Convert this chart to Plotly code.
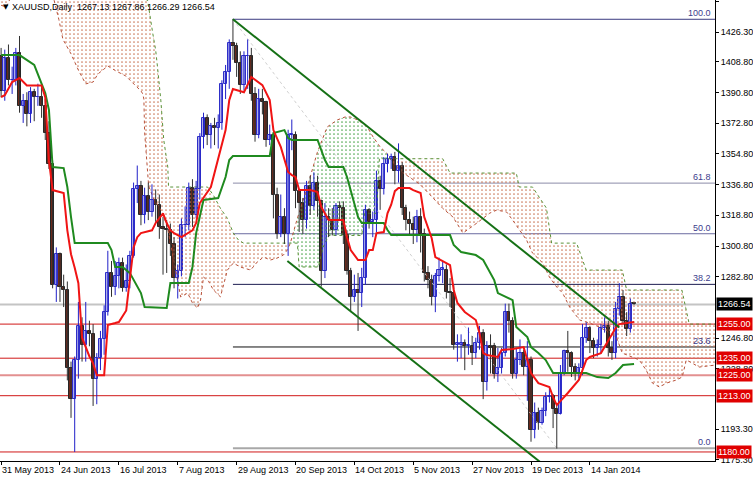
import plotly.graph_objects as go

# ---------------- data ----------------
tick_bars = [0, 16, 32, 48, 64, 80, 96, 112, 128, 144, 160]
tick_labels = ["31 May 2013", "24 Jun 2013", "16 Jul 2013", "7 Aug 2013", "29 Aug 2013",
               "20 Sep 2013", "14 Oct 2013", "5 Nov 2013", "27 Nov 2013", "19 Dec 2013",
               "14 Jan 2014"]

open_ = [1412, 1392, 1411, 1398, 1398, 1414, 1383, 1386, 1378, 1391,
         1388, 1388, 1383, 1367, 1349, 1278, 1296, 1277, 1275, 1229,
         1211, 1234, 1254, 1243, 1251, 1249, 1223, 1235, 1246, 1262,
         1285, 1277, 1283, 1291, 1276, 1280, 1295, 1334, 1336, 1319,
         1330, 1321, 1328, 1325, 1312, 1311, 1310, 1302, 1282, 1286,
         1313, 1313, 1335, 1319, 1334, 1365, 1376, 1366, 1371, 1370,
         1373, 1396, 1403, 1420, 1418, 1408, 1395, 1412, 1412, 1390,
         1366, 1387, 1385, 1363, 1366, 1331, 1308, 1318, 1308, 1366,
         1366, 1333, 1326, 1316, 1336, 1324, 1338, 1327, 1286, 1318,
         1316, 1310, 1324, 1323, 1307, 1286, 1271, 1275, 1273, 1282,
         1322, 1315, 1316, 1339, 1334, 1349, 1352, 1353, 1345, 1348,
         1323, 1316, 1314, 1310, 1318, 1308, 1285, 1281, 1271, 1283,
         1287, 1287, 1274, 1273, 1243, 1243, 1244, 1242, 1242, 1238,
         1244, 1250, 1221, 1242, 1242, 1226, 1229, 1238, 1262, 1257,
         1226, 1234, 1238, 1230, 1234, 1193, 1203, 1197, 1204, 1212,
         1213, 1205, 1202, 1226, 1239, 1238, 1230, 1226, 1229, 1247,
         1253, 1245, 1241, 1243, 1253, 1254, 1241, 1238, 1264, 1271,
         1257, 1252, 1267.13]
high = [1417, 1416, 1419, 1406, 1417, 1424, 1390, 1391, 1394, 1393,
        1396, 1395, 1387, 1374, 1351, 1300, 1297, 1284, 1280, 1233,
        1236, 1268, 1259, 1268, 1257, 1255, 1238, 1251, 1266, 1298,
        1292, 1292, 1294, 1294, 1290, 1298, 1338, 1348, 1339, 1335,
        1338, 1337, 1334, 1331, 1318, 1316, 1314, 1306, 1290, 1317,
        1324, 1338, 1340, 1339, 1367, 1379, 1378, 1373, 1376, 1378,
        1398, 1407, 1422, 1434, 1420, 1415, 1415, 1422, 1417, 1394,
        1393, 1393, 1386, 1372, 1367, 1335, 1331, 1323, 1369, 1375,
        1368, 1334, 1329, 1339, 1342, 1344, 1342, 1328, 1326, 1323,
        1323, 1326, 1327, 1327, 1310, 1288, 1284, 1285, 1288, 1325,
        1323, 1321, 1345, 1342, 1353, 1355, 1355, 1356, 1361, 1350,
        1325, 1321, 1318, 1322, 1323, 1311, 1289, 1284, 1285, 1294,
        1292, 1290, 1282, 1278, 1249, 1249, 1246, 1253, 1248, 1247,
        1254, 1252, 1245, 1249, 1244, 1241, 1241, 1267, 1267, 1259,
        1241, 1246, 1240, 1245, 1236, 1209, 1206, 1206, 1215, 1218,
        1214, 1208, 1231, 1240, 1251, 1239, 1232, 1232, 1255, 1256,
        1254, 1247, 1246, 1255, 1259, 1257, 1245, 1268, 1279, 1275,
        1262, 1270, 1267.86]
low = [1388, 1386, 1395, 1390, 1395, 1379, 1373, 1371, 1373, 1374,
       1383, 1376, 1363, 1346, 1276, 1268, 1268, 1265, 1222, 1200,
       1180, 1223, 1233, 1233, 1242, 1207, 1208, 1228, 1237, 1260,
       1271, 1272, 1276, 1274, 1274, 1276, 1294, 1326, 1313, 1314,
       1316, 1318, 1315, 1305, 1284, 1285, 1295, 1276, 1270, 1283,
       1306, 1310, 1312, 1317, 1328, 1358, 1360, 1358, 1360, 1358,
       1369, 1387, 1393, 1410, 1400, 1390, 1392, 1393, 1386, 1362,
       1364, 1378, 1359, 1360, 1317, 1305, 1306, 1302, 1295, 1357,
       1323, 1309, 1308, 1311, 1319, 1322, 1318, 1277, 1282, 1306,
       1307, 1307, 1316, 1302, 1284, 1262, 1268, 1251, 1265, 1278,
       1311, 1306, 1309, 1322, 1331, 1344, 1346, 1337, 1338, 1319,
       1310, 1307, 1302, 1303, 1297, 1280, 1276, 1266, 1262, 1280,
       1279, 1270, 1265, 1240, 1233, 1235, 1228, 1237, 1231, 1235,
       1240, 1211, 1216, 1226, 1223, 1221, 1226, 1236, 1250, 1223,
       1223, 1231, 1225, 1210, 1186, 1188, 1193, 1196, 1201, 1209,
       1194, 1182, 1202, 1225, 1227, 1224, 1222, 1223, 1225, 1244,
       1238, 1235, 1236, 1238, 1250, 1236, 1234, 1235, 1260, 1255,
       1248, 1250, 1266.29]
close = [1392, 1411, 1398, 1398, 1414, 1383, 1386, 1378, 1391, 1388,
         1388, 1383, 1367, 1349, 1278, 1296, 1277, 1275, 1229, 1211,
         1234, 1254, 1243, 1251, 1249, 1223, 1235, 1246, 1262, 1285,
         1277, 1283, 1291, 1276, 1280, 1295, 1334, 1336, 1319, 1330,
         1321, 1328, 1325, 1312, 1311, 1310, 1302, 1282, 1286, 1313,
         1313, 1335, 1319, 1334, 1365, 1376, 1366, 1371, 1370, 1373,
         1396, 1403, 1420, 1418, 1408, 1395, 1412, 1412, 1390, 1366,
         1387, 1385, 1363, 1366, 1331, 1308, 1318, 1308, 1366, 1366,
         1333, 1326, 1316, 1336, 1324, 1338, 1327, 1286, 1318, 1316,
         1310, 1324, 1323, 1307, 1286, 1271, 1275, 1273, 1282, 1322,
         1315, 1316, 1339, 1334, 1349, 1352, 1353, 1345, 1348, 1323,
         1316, 1314, 1310, 1318, 1308, 1285, 1281, 1271, 1283, 1287,
         1288, 1274, 1273, 1243, 1244, 1244, 1242, 1243, 1238, 1244,
         1250, 1221, 1242, 1241, 1226, 1229, 1238, 1262, 1257, 1226,
         1234, 1238, 1230, 1234, 1193, 1203, 1197, 1204, 1212, 1213,
         1205, 1202, 1226, 1239, 1238, 1230, 1226, 1229, 1247, 1253,
         1245, 1241, 1243, 1253, 1254, 1241, 1238, 1264, 1271, 1257,
         1252, 1267, 1266.54]

# Ichimoku lines (bar index, price)
tenkan_x = [0, 1, 3, 5, 7, 11, 12, 13, 14, 16, 17, 18, 19, 20, 21, 22, 24, 25, 26, 28,
            29, 31, 32, 34, 35, 36, 37, 38, 41, 42, 44, 45, 46, 47, 49, 51, 52, 53, 54, 57,
            59, 61, 62, 63, 66, 68, 71, 72, 73, 74, 76, 78, 79, 80, 81, 84, 86, 87, 89, 93,
            94, 95, 97, 99, 100, 101, 102, 104, 105, 106, 107, 108, 111, 112, 114, 115, 117, 118, 122, 123,
            124, 126, 129, 130, 131, 132, 135, 136, 139, 142, 143, 144, 146, 149, 150, 151, 154, 157, 159, 160,
            163, 165, 167, 168, 172]
tenkan_y = [1388.2, 1389.3, 1397.0, 1399.3, 1395.0, 1395.0, 1388.0, 1351.0, 1333.6, 1332.5,
            1331.9, 1310.0, 1296.0, 1288.0, 1279.0, 1247.0, 1236.0, 1232.0, 1225.0, 1225.0,
            1254.5, 1255.6, 1256.2, 1263.0, 1282.6, 1300.0, 1306.0, 1308.4, 1310.0, 1314.3,
            1320.0, 1314.3, 1310.0, 1308.4, 1306.0, 1309.0, 1310.0, 1314.3, 1326.0, 1335.4,
            1353.0, 1368.8, 1386.4, 1392.9, 1391.0, 1399.9, 1395.2, 1390.5, 1386.4, 1368.8,
            1358.9, 1344.2, 1342.4, 1341.3, 1333.6, 1333.6, 1332.5, 1323.7, 1316.0, 1316.0,
            1306.0, 1298.4, 1292.6, 1292.6, 1298.4, 1298.4, 1308.4, 1309.0, 1320.0, 1325.0,
            1333.0, 1334.8, 1334.8, 1333.6, 1331.9, 1317.8, 1305.5, 1294.3, 1289.6, 1275.0,
            1267.4, 1262.1, 1257.4, 1249.8, 1238.0, 1236.9, 1235.7, 1239.8, 1240.4, 1241.5,
            1233.9, 1226.3, 1220.4, 1218.1, 1212.2, 1207.5, 1214.6, 1222.2, 1233.9, 1235.7,
            1238.0, 1245.6, 1252.7, 1255.0, 1256.2]
kijun_x = [0, 5, 9, 11, 12, 13, 14, 17, 18, 19, 20, 29, 30, 31, 33, 35, 38, 39, 45, 46,
           51, 52, 53, 55, 59, 61, 62, 63, 73, 74, 77, 78, 79, 86, 88, 89, 93, 94, 97, 98,
           104, 105, 106, 122, 123, 125, 129, 131, 134, 135, 139, 140, 143, 144, 146, 148, 150, 159, 162, 165,
           167, 169, 172]
kijun_y = [1412.8, 1412.8, 1407.0, 1396.4, 1390.5, 1380.6, 1347.1, 1346.5, 1335.4, 1317.8,
           1302.5, 1302.5, 1298.4, 1288.5, 1288.5, 1284.9, 1273.2, 1265.0, 1264.4, 1279.1,
           1279.1, 1288.5, 1308.4, 1327.8, 1328.9, 1341.3, 1351.2, 1353.6, 1353.6, 1367.0,
           1368.8, 1364.1, 1363.0, 1363.0, 1351.2, 1347.1, 1347.1, 1341.3, 1317.8, 1314.3,
           1314.3, 1310.2, 1307.2, 1307.2, 1301.4, 1297.3, 1295.5, 1292.6, 1280.8, 1273.2,
           1269.1, 1253.3, 1247.4, 1241.5, 1238.0, 1233.9, 1226.3, 1226.3, 1223.9, 1223.4,
           1226.3, 1231.0, 1231.6]
span_a_x = [0, 1.4, 2.7, 5, 13, 14.4, 15.7, 16.8, 19, 21.1, 23, 25, 26.3, 29, 31.2, 33.9,
            36.6, 38, 38.5, 38.8, 39, 39.6, 40.1, 41.5, 42.8, 44.2, 45.3, 46.6, 48.2, 48.8,
            50.7, 52, 53.4, 54.2, 55, 56.4, 57.7, 59.6, 61.5, 63.1, 65, 65.9, 67.8, 69.6,
            71.3, 73.2, 75, 76.7, 77.8, 78.6, 80.5, 83.2, 85.9, 88.6, 91.3, 93.5, 94.9, 97,
            99.5, 101.1, 103, 104.9, 105.7, 108.4, 113.8, 116.5, 120, 122.8, 125.5, 129.3,
            132.8, 134.7, 137.4, 139, 141, 142.8, 144.4, 147.2, 149, 151, 152.6, 154.5, 157.2,
            159.9, 162.6, 165.3, 167.2, 168.8, 171.5, 173.4, 175.3, 177, 178.9, 180.8, 183.5,
            185.1, 186.2, 187.8, 189.7, 198]
span_a_y = [1442, 1441, 1447, 1460, 1460, 1445, 1433.6, 1422, 1413.5, 1403.5, 1395.9, 1397,
            1401.7, 1406.4, 1403.5, 1400.5, 1394.7, 1391.8, 1390, 1387, 1367.6, 1347.6, 1335.9,
            1328.3, 1324.2, 1318.3, 1310.7, 1296, 1278, 1270.9, 1273.2, 1267.4, 1264.4, 1269.1,
            1282.6, 1280, 1275, 1271, 1286.7, 1290.8, 1288.5, 1287.9, 1286.7, 1291.4, 1294.3,
            1292.6, 1293.7, 1295.5, 1298.5, 1302.5, 1317, 1335.4, 1355.5, 1370.6, 1374.7,
            1376.5, 1376.5, 1374.7, 1370.6, 1364.7, 1358.9, 1355, 1352, 1345, 1337, 1331,
            1322.9, 1317.8, 1308.4, 1314.3, 1320.1, 1321.9, 1320.7, 1316, 1310.2, 1304.3,
            1296.7, 1290.8, 1282.6, 1276.7, 1273.2, 1265, 1257.4, 1255.6, 1253.3, 1249.8,
            1247.4, 1238, 1235.7, 1234, 1228, 1220.4, 1218.1, 1220.4, 1222.2, 1224, 1234,
            1232, 1229.8, 1232]
span_b_x = [0, 39.8, 41.2, 42, 42.5, 43.4, 44.2, 45.3, 45.5, 56.1, 57.7, 59.6, 61.5, 63.1,
            64.5, 65.9, 80.5, 81, 86.2, 87.5, 89, 98, 98.8, 102, 102.8, 120, 122, 140, 140.8,
            144.4, 148.2, 149.6, 156.4, 159, 168.8, 170, 185, 187, 198]
span_b_y = [1480, 1445, 1425.7, 1415.7, 1405.8, 1386.4, 1363, 1347.1, 1335.4, 1335.4,
            1330.6, 1322.9, 1317, 1308.4, 1304.3, 1302.5, 1302.5, 1288.5, 1288.5, 1300, 1307,
            1307, 1320, 1320, 1352, 1352, 1343.6, 1343.6, 1335.4, 1335.4, 1323, 1302.5,
            1302.5, 1286.7, 1286.7, 1275, 1275, 1255, 1255]
kumo_cross_x = [78.6, 105.7]
kumo_cross_y = [1302.5, 1352.0]

level_prices = [1255.0, 1235.0, 1225.0, 1213.0, 1180.0]
bid_price = 1266.54

fib_high = 1433.8
fib_low = 1182.2
fib_start_bar = 63
fib_end_bar = 151
fib_ratios = [1.0, 0.618, 0.5, 0.382, 0.236, 0.0]
fib_texts = ["100.0", "61.8", "50.0", "38.2", "23.6", "0.0"]

channel_upper_x = [63, 168]
channel_upper_y = [1433.8, 1253.0]
channel_lower_x = [77.8, 148]
channel_lower_y = [1292.0, 1171.5]

y_tick_vals = [1444.3, 1426.3, 1408.8, 1390.8, 1372.8, 1354.8, 1336.8, 1318.8, 1300.8,
               1282.8, 1246.8, 1228.8, 1193.3, 1175.3]

# ---------------- figure ----------------
X_RANGE = [-0.3, 194.0]
Y_RANGE = [1174.7, 1445.1]
FONT = "Liberation Sans, Arial"

BROWN = "#CC7A5C"
GREEN_DOT = "#52A852"
fig = go.Figure()

# Kumo fills (split at crossings)
bounds = [X_RANGE[0] - 10] + kumo_cross_x + [300]
seg_colors = [BROWN, GREEN_DOT, BROWN]
for s in range(3):
    lo, hi = bounds[s], bounds[s + 1]
    ax = [x for x in span_a_x if lo <= x <= hi]
    ay = [y for x, y in zip(span_a_x, span_a_y) if lo <= x <= hi]
    bx = [x for x in span_b_x if lo <= x < hi]
    by = [y for x, y in zip(span_b_x, span_b_y) if lo <= x < hi]
    if s > 0:
        bx = [kumo_cross_x[s - 1]] + [x for x in bx if x > kumo_cross_x[s - 1]]
        by = [kumo_cross_y[s - 1]] + [y for x, y in zip(span_b_x, span_b_y)
                                      if kumo_cross_x[s - 1] < x < hi]
    if s < 2:
        bx = bx + [kumo_cross_x[s]]
        by = by + [kumo_cross_y[s]]
    px = ax + bx[::-1]
    py = ay + by[::-1]
    fig.add_trace(go.Scatter(
        x=px, y=py, mode="lines", line=dict(width=0), fill="toself",
        fillcolor="rgba(0,0,0,0)",
        fillpattern=dict(shape=".", fgcolor=seg_colors[s], bgcolor="rgba(0,0,0,0)",
                         size=4, solidity=0.14, fillmode="replace"),
        hoverinfo="skip", showlegend=False))

fig.add_trace(go.Scatter(x=span_a_x, y=span_a_y, mode="lines",
                         line=dict(color="#B85038", width=1, dash="dot"),
                         hoverinfo="skip", showlegend=False))
fig.add_trace(go.Scatter(x=span_b_x, y=span_b_y, mode="lines",
                         line=dict(color="#5A9238", width=1, dash="dot"),
                         hoverinfo="skip", showlegend=False))

# fib diagonal
fig.add_trace(go.Scatter(x=[fib_start_bar, fib_end_bar], y=[fib_high, fib_low], mode="lines",
                         line=dict(color="#D0D0D0", width=1, dash="dot"),
                         hoverinfo="skip", showlegend=False))

# candles
n = len(close)
bull = [i for i in range(n) if close[i] >= open_[i]]
bear = [i for i in range(n) if close[i] < open_[i]]

def wick(idx):
    xs, ys = [], []
    for i in idx:
        xs += [i, i, None]
        ys += [low[i], high[i], None]
    return xs, ys

wx, wy = wick(bear)
fig.add_trace(go.Scatter(x=wx, y=wy, mode="lines", line=dict(color="#303030", width=1),
                         hoverinfo="skip", showlegend=False))
wx, wy = wick(bull)
fig.add_trace(go.Scatter(x=wx, y=wy, mode="lines", line=dict(color="#2020C8", width=1),
                         hoverinfo="skip", showlegend=False))

fig.add_trace(go.Bar(x=bear, base=[close[i] for i in bear],
                     y=[max(open_[i] - close[i], 0.4) for i in bear],
                     width=0.85, marker=dict(color="#6B2A1C", line=dict(color="#262626", width=1)),
                     hoverinfo="skip", showlegend=False))
fig.add_trace(go.Bar(x=bull, base=[open_[i] for i in bull],
                     y=[max(close[i] - open_[i], 0.4) for i in bull],
                     width=0.85, marker=dict(color="#AEAEEA", line=dict(color="#2E2EC8", width=1)),
                     hoverinfo="skip", showlegend=False))

# Tenkan / Kijun
fig.add_trace(go.Scatter(x=kijun_x, y=kijun_y, mode="lines",
                         line=dict(color="#1F8A1F", width=2), hoverinfo="skip", showlegend=False))
fig.add_trace(go.Scatter(x=tenkan_x, y=tenkan_y, mode="lines",
                         line=dict(color="#F01414", width=2), hoverinfo="skip", showlegend=False))

# channel
fig.add_trace(go.Scatter(x=channel_upper_x, y=channel_upper_y, mode="lines",
                         line=dict(color="#157015", width=2), hoverinfo="skip", showlegend=False))
fig.add_trace(go.Scatter(x=channel_lower_x, y=channel_lower_y, mode="lines",
                         line=dict(color="#157015", width=2), hoverinfo="skip", showlegend=False))

shapes = []
shapes.append(dict(type="line", xref="paper", x0=0, x1=1, yref="y", y0=bid_price, y1=bid_price,
                   line=dict(color="#C4C4C4", width=2), layer="below"))
level_styles = {1225.0: ("#E39090", 2)}
for p in level_prices:
    col, w = level_styles.get(p, ("#D01818", 1))
    shapes.append(dict(type="line", xref="paper", x0=0, x1=1, yref="y", y0=p, y1=p,
                       line=dict(color=col, width=w), layer="below"))
fib_colors = ["#3A3A80", "#8C8CA8", "#6A6AA0", "#1C1C50", "#101010", "#A8A8A8"]
fib_widths = [1, 1, 1, 1, 1, 2]
annotations = []
for r, t, c, w in zip(fib_ratios, fib_texts, fib_colors, fib_widths):
    lvl = fib_low + r * (fib_high - fib_low)
    shapes.append(dict(type="line", xref="x", x0=fib_start_bar, x1=X_RANGE[1], yref="y",
                       y0=lvl, y1=lvl, line=dict(color=c, width=w), layer="below"))
    annotations.append(dict(x=1, xref="paper", xanchor="right", xshift=-2, y=lvl, yref="y",
                            yanchor="bottom", yshift=-1, text=t, showarrow=False,
                            font=dict(family=FONT, size=9, color="#3C3C8C")))

# date labels (drawn to the right of each tick, MT4 style)
for b, t in zip(tick_bars, tick_labels):
    annotations.append(dict(x=b, xref="x", xanchor="left", xshift=-1, y=0, yref="paper",
                            yanchor="top", yshift=-2, text=t, showarrow=False,
                            font=dict(family=FONT, size=9, color="#000000")))

# right-side price boxes
annotations.append(dict(x=1, xref="paper", xanchor="left", xshift=1, y=bid_price, yref="y",
                        text=f"{bid_price:.2f}", showarrow=False, bgcolor="#000000",
                        font=dict(family=FONT, size=9, color="white"), borderpad=1))
for p in level_prices:
    annotations.append(dict(x=1, xref="paper", xanchor="left", xshift=1, y=p, yref="y",
                            text=f"{p:.2f}", showarrow=False, bgcolor="#E00000",
                            font=dict(family=FONT, size=9, color="white"), borderpad=1))

# title
annotations.append(dict(x=0, xref="paper", xanchor="left", xshift=1, y=1, yref="paper",
                        yanchor="top", yshift=-1, text="▼", showarrow=False,
                        font=dict(family="DejaVu Sans", size=7, color="#000000")))
annotations.append(dict(x=0, xref="paper", xanchor="left", xshift=10, y=1, yref="paper",
                        yanchor="top", yshift=0,
                        text=f"XAUUSD,Daily  {open_[-1]:.2f} {high[-1]:.2f} {low[-1]:.2f} {close[-1]:.2f}",
                        showarrow=False, font=dict(family=FONT, size=9, color="#000000")))

fig.update_layout(
    width=753, height=477, template="none",
    margin=dict(l=0, r=38, t=0, b=16, pad=0),
    paper_bgcolor="white", plot_bgcolor="white",
    barmode="overlay", bargap=0,
    showlegend=False,
    shapes=shapes, annotations=annotations,
    xaxis=dict(range=X_RANGE, tickvals=tick_bars, showticklabels=False, showgrid=False,
               zeroline=False, showline=True, linecolor="#000000", linewidth=1,
               ticks="outside", ticklen=3, tickcolor="#000000",
               fixedrange=True, automargin=False),
    yaxis=dict(range=Y_RANGE, side="right", tickvals=y_tick_vals,
               ticktext=[f"{v:.2f}" for v in y_tick_vals], showgrid=False, zeroline=False,
               showline=True, linecolor="#000000", linewidth=1, ticks="outside", ticklen=3,
               tickcolor="#000000",
               tickfont=dict(family=FONT, size=9, color="#000000"),
               fixedrange=True, automargin=False),
)

fig.write_html("out.html", post_script="document.body.style.margin='0';",
               config={"displayModeBar": False})
